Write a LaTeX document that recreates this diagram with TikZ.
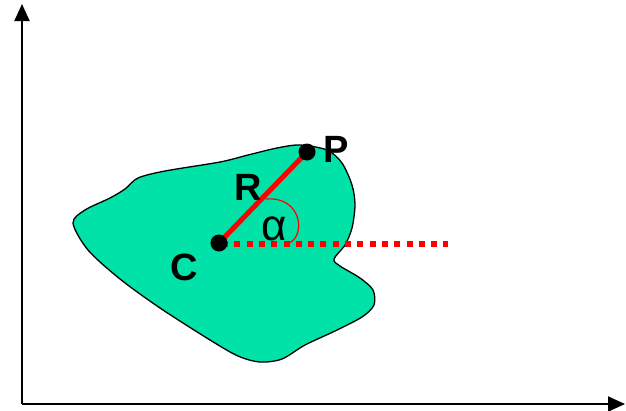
\documentclass[tikz,border=0pt]{standalone}
\usepackage{fontspec}
\setmainfont{Liberation Sans}
\usetikzlibrary{arrows.meta}
\definecolor{blobgreen}{RGB}{0,226,168}
\definecolor{pointred}{RGB}{255,0,0}
\tikzset{
  axis/.style={line width=2pt, -{Triangle[length=17pt,width=15pt]}},
  dot/.style={circle, fill=black, inner sep=0pt, minimum size=17pt},
  biglabel/.style={font=\fontsize{38}{38}\selectfont\bfseries, anchor=base, inner sep=0pt},
  anglelabel/.style={font=\fontsize{44}{44}\selectfont, anchor=base, inner sep=0pt},
  radius line/.style={pointred, line width=5pt},
  ref line/.style={pointred, line width=6pt, dash pattern=on 6pt off 6.3pt},
  angle arc/.style={pointred, line width=1.2pt},
}
\begin{document}
\begin{tikzpicture}[x=1pt,y=-1pt]
  \useasboundingbox (0,0) rectangle (626,410);

  % coordinate axes
  \coordinate (O) at (22,404);
  \coordinate (ytip) at (22,4);
  \coordinate (xtip) at (625,404);
  \draw[axis] (O) -- (ytip);
  \draw[axis] (O) -- (xtip);

  % the body
  \draw[fill=blobgreen, line width=1.3pt]
    plot[smooth cycle, tension=0.5] coordinates {
      (73,223) (85,210) (110,198) (125,189) (138,178) (165,171)
      (220,162) (248,155) (277,148) (300,145) (327,150) (342,163)
      (352,185) (355,205) (352,228) (345,245) (334,259) (340,266)
      (360,278) (373,290) (374,305) (362,317) (335,331) (305,345)
      (282,359) (260,362) (238,356) (210,340) (160,308) (120,279)
      (88,250)};

  % centre, point and the reference direction
  \coordinate (Cc) at (219,243);
  \coordinate (Pc) at (307,152);
  \coordinate (refstart) at (222,244);
  \coordinate (refend) at (448,244);
  \draw[ref line] (refstart) -- (refend);
  \draw[radius line] (Cc) -- (Pc);
  \node[dot] (C) at (Cc) {};
  \node[dot] (P) at (Pc) {};

  % angle mark
  \coordinate (a0) at (266,199);
  \coordinate (a1) at (289,243);
  \draw[angle arc] (a0) .. controls (302,196) and (306,236) .. (a1);

  % labels
  \node[biglabel] (Plab) at (336,162) {P};
  \node[biglabel] (Rlab) at (248,200) {R};
  \node[biglabel] (Clab) at (184,280) {C};
  \node[anglelabel] (alab) at (274,240) {α};
\end{tikzpicture}
\end{document}
